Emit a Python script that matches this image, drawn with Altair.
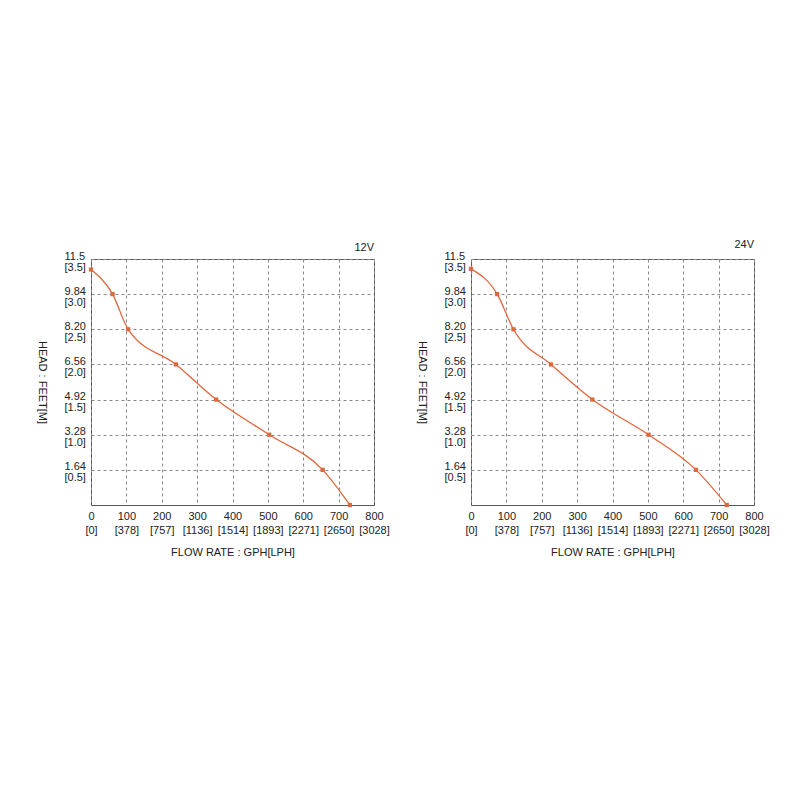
import altair as alt
import pandas as pd

# ---- data ----
flow_12v = [0, 61, 105, 240, 354, 504, 655, 732]
head_12v = [3.35, 3.0, 2.5, 2.0, 1.5, 1.0, 0.5, 0.0]
flow_24v = [0, 74, 120, 226, 343, 502, 636, 723]
head_24v = [3.36, 3.0, 2.5, 2.0, 1.5, 1.0, 0.5, 0.0]

gph_ticks = [0, 100, 200, 300, 400, 500, 600, 700, 800]
lph_labels = ["[0]", "[378]", "[757]", "[1136]", "[1514]", "[1893]", "[2271]", "[2650]", "[3028]"]
meter_ticks = [0.5, 1.0, 1.5, 2.0, 2.5, 3.0, 3.5]
feet_labels = ["1.64", "3.28", "4.92", "6.56", "8.20", "9.84", "11.5"]
meter_labels = ["[0.5]", "[1.0]", "[1.5]", "[2.0]", "[2.5]", "[3.0]", "[3.5]"]

FONT = "Liberation Sans"
LINE_COLOR = "#E0663C"
W, H = 283, 246

x_expr = "[" + ",".join(f"['{g}','{l}']" for g, l in zip(gph_ticks, lph_labels)) + "][round(datum.value/100)]"
y_expr = "[" + ",".join(f"['{f}','{m}']" for f, m in zip(feet_labels, meter_labels)) + "][round(datum.value*2)-1]"


def panel(flow, head, label, title_offset):
    df = pd.DataFrame({"flow": flow, "head": head})
    x = alt.X(
        "flow:Q",
        scale=alt.Scale(domain=[0, 800], nice=False),
        axis=alt.Axis(
            values=gph_ticks,
            labelExpr=x_expr,
            labelFlush=False,
            labelOverlap=False,
            labelAlign="center",
            title="FLOW RATE : GPH[LPH]",
            titleY=47,
            titleBaseline="middle",
            labelPadding=5,
            labelLineHeight=14,
        ),
    )
    y = alt.Y(
        "head:Q",
        scale=alt.Scale(domain=[0, 3.5], nice=False),
        axis=alt.Axis(
            values=meter_ticks,
            labelExpr=y_expr,
            labelAlign="left",
            labelBaseline="middle",
            labelPadding=27,
            labelOffset=-3,
            labelFlush=False,
            labelOverlap=False,
            labelLineHeight=11,
            title="HEAD : FEET[M]",
            titleAngle=90,
            titleX=-50,
            titleY=H / 2,
            titleAlign="center",
            titleBaseline="middle",
        ),
    )
    base = alt.Chart(df).encode(x=x, y=y)
    line = base.mark_line(color=LINE_COLOR, strokeWidth=1.3, interpolate="monotone")
    pts = base.mark_square(color=LINE_COLOR, size=18, opacity=1)
    return alt.layer(line, pts).properties(
        width=W,
        height=H,
        title=alt.TitleParams(label, anchor="end", frame="group", fontSize=11, fontWeight="normal",
                              font=FONT, color="#222", offset=title_offset),
    )


left = panel(flow_12v, head_12v, "12V", -3)
right = panel(flow_24v, head_24v, "24V", 0)

chart = (
    alt.hconcat(left, right, spacing=25)
    .properties(padding={"left": 27, "top": 230, "right": 0, "bottom": 0}, background="white")
    .configure_view(stroke="#555", strokeWidth=1)
    .configure_axis(
        domain=False,
        ticks=False,
        grid=True,
        gridColor="#888",
        gridDash=[3, 3],
        gridWidth=1,
        labelFont=FONT,
        labelFontSize=11,
        labelColor="#222",
        titleFont=FONT,
        titleFontSize=11,
        titleFontWeight="normal",
        titleColor="#222",
    )
)

chart.save("out.html", embed_options={"renderer": "svg", "actions": False})
